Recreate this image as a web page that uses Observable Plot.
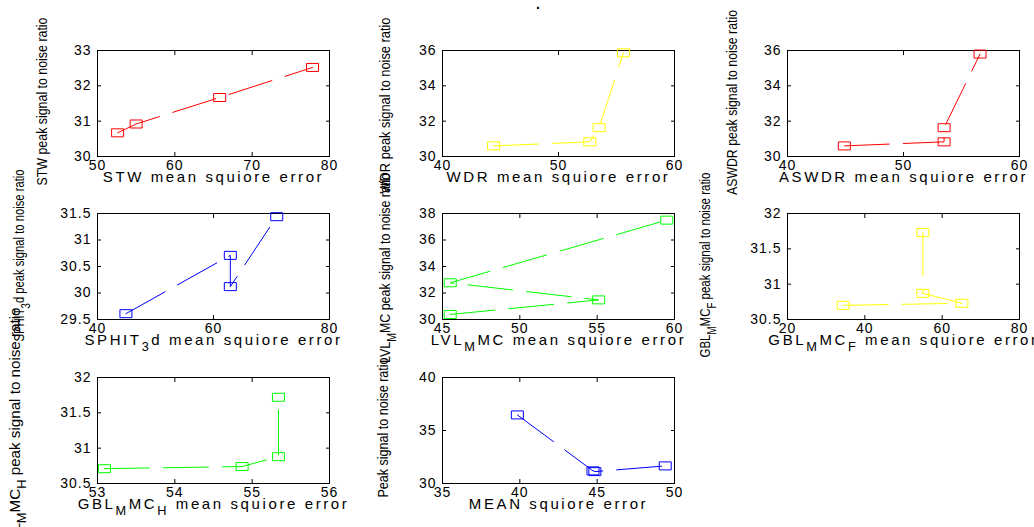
<!DOCTYPE html>
<html><head><meta charset="utf-8">
<script src="https://cdn.jsdelivr.net/npm/d3@7"></script>
<script src="https://cdn.jsdelivr.net/npm/@observablehq/plot@0.6"></script>
<style>
body{margin:0;background:#fff;}
#chart{position:relative;width:1034px;height:527px;overflow:hidden;background:#fff;font-family:"Liberation Sans",Arial,sans-serif;}
#chart svg{position:absolute;}
#title{position:absolute;left:536px;top:-4px;font:bold 14px "Liberation Sans",Arial,sans-serif;}
</style></head><body><div id="chart"><div id="title">.</div></div>
<script>
// ---- data ----
const stwX = [52.6, 55.0, 65.8, 77.8];
const stwY = [30.67, 30.92, 31.67, 32.52];
const wdrX = [44.4, 52.7, 53.5, 55.6];
const wdrY = [30.6, 30.83, 31.63, 35.87];
const aswdrX = [44.9, 53.5, 53.5, 56.6];
const aswdrY = [30.6, 30.83, 31.63, 35.8];
const sphitX = [44.9, 62.9, 62.9, 70.9];
const sphitY = [29.61, 30.71, 30.12, 31.44];
const lvlX = [45.5, 55.1, 45.5, 59.5];
const lvlY = [30.38, 31.48, 32.77, 37.5];
const gblFX = [34.4, 65.1, 55.0, 55.0];
const gblFY = [30.70, 30.73, 30.87, 31.73];
const gblHX = [53.09, 54.87, 55.34, 55.34];
const gblHY = [30.71, 30.74, 30.88, 31.72];
const meanX = [39.84, 44.73, 44.85, 49.4];
const meanY = [36.47, 31.19, 31.12, 31.66];

const stwXTicks = [50, 60, 70, 80], stwYTicks = [30, 31, 32, 33];
const wdrXTicks = [40, 50, 60], wdrYTicks = [30, 32, 34, 36];
const aswdrXTicks = [40, 50, 60], aswdrYTicks = [30, 32, 34, 36];
const sphitXTicks = [40, 60, 80], sphitYTicks = [29.5, 30, 30.5, 31, 31.5];
const lvlXTicks = [45, 50, 55, 60], lvlYTicks = [30, 32, 34, 36, 38];
const gblFXTicks = [20, 40, 60, 80], gblFYTicks = [30.5, 31, 31.5, 32];
const gblHXTicks = [53, 54, 55, 56], gblHYTicks = [30.5, 31, 31.5, 32];
const meanXTicks = [35, 40, 45, 50], meanYTicks = [30, 35, 40];

const xLabels = ["STW mean squiore error", "WDR mean squiore error", "ASWDR mean squiore error",
  "SPHIT_3d mean squiore error", "LVL_MMC mean squiore error", "GBL_MMC_F mean squiore error",
  "GBL_MMC_H mean squiore error", "MEAN squiore error"];
const yLabels = ["STW peak signal to noise ratio", "WDR peak signal to noise ratio", "ASWDR peak signal to noise ratio",
  "SPHIT_3d peak signal to noise ratio", "LVL_MMC peak signal to noise ratio", "GBL_MMC_F peak signal to noise ratio",
  "GBL_MMC_H peak signal to noise ratio", "Peak signal to noise ratio"];
const colors = ["#ff0000", "#ffff00", "#ff0000", "#0000ff", "#00ff00", "#ffff00", "#00ff00", "#0000ff"];

const series = [
  [stwX, stwY, stwXTicks, stwYTicks], [wdrX, wdrY, wdrXTicks, wdrYTicks], [aswdrX, aswdrY, aswdrXTicks, aswdrYTicks],
  [sphitX, sphitY, sphitXTicks, sphitYTicks], [lvlX, lvlY, lvlXTicks, lvlYTicks], [gblFX, gblFY, gblFXTicks, gblFYTicks],
  [gblHX, gblHY, gblHXTicks, gblHYTicks], [meanX, meanY, meanXTicks, meanYTicks]
];

// ---- layout ----
const colLeft = [97, 442, 787], rowTop = [50, 213, 377];
const W = 232, H = 106;
const ML = 95, MR = 20, MT = 45, MB = 45;
const yLabelLayout = [ // [dx from frame left, dy from frame middle, length]
  [-55, -2, 168], [-57, 2, 176], [-55, -1, 185],
  [-78, -11, 172], [-57, 1.5, 190], [-82, -1.5, 185],
  [-82, 0, 246], [-59, -3, 140]
];

const ns = "http://www.w3.org/2000/svg";
function setRich(el, s) {
  while (el.firstChild) el.removeChild(el.firstChild);
  let buf = "", shifted = false, i = 0;
  const add = (txt, sub) => {
    const t = document.createElementNS(ns, "tspan");
    t.textContent = txt;
    if (sub) { t.setAttribute("dy", shifted ? "0" : "6"); t.setAttribute("font-size", "0.85em"); shifted = true; }
    else if (shifted) { t.setAttribute("dy", "-6"); shifted = false; }
    el.appendChild(t);
  };
  while (i < s.length) {
    if (s[i] === "_" && i + 1 < s.length) { if (buf) { add(buf, false); buf = ""; } add(s[i + 1], true); i += 2; }
    else { buf += s[i]; i++; }
  }
  if (buf) add(buf, false);
}

const rectSymbol = { draw(ctx) { ctx.moveTo(-6, -4); ctx.lineTo(6, -4); ctx.lineTo(6, 4); ctx.lineTo(-6, 4); ctx.closePath(); } };
const fmt = d => String(d);
const chart = document.getElementById("chart");

series.forEach(([xs, ys, xt, yt], k) => {
  const col = k % 3, row = Math.floor(k / 3);
  const idx = d3.range(xs.length);
  const [ldx, ldy, llen] = yLabelLayout[k];
  const svg = Plot.plot({
    width: ML + W + MR, height: MT + H + MB,
    marginLeft: ML, marginRight: MR, marginTop: MT, marginBottom: MB,
    style: { background: "none", overflow: "visible", fontFamily: "'Liberation Sans', Arial, sans-serif", fontSize: "14px", color: "black", maxWidth: "none" },
    x: { domain: [xt[0], xt[xt.length - 1]], label: null },
    y: { domain: [yt[0], yt[yt.length - 1]], label: null },
    marks: [
      Plot.frame({ stroke: "black", strokeWidth: 1 }),
      Plot.axisX({ anchor: "bottom", ticks: xt, tickSize: -4, tickPadding: 8, tickFormat: fmt, fontSize: 14, label: null }),
      Plot.axisX({ anchor: "top", ticks: xt, tickSize: -4, tickFormat: () => "", label: null }),
      Plot.axisY({ anchor: "left", ticks: yt, tickSize: -4, tickPadding: 10, tickFormat: fmt, fontSize: 14, label: null }),
      Plot.axisY({ anchor: "right", ticks: yt, tickSize: -4, tickFormat: () => "", label: null }),
      Plot.line(idx, { x: i => xs[i], y: i => ys[i], stroke: colors[k], strokeWidth: 1, strokeDasharray: "45,14" }),
      Plot.dot(idx, { x: i => xs[i], y: i => ys[i], stroke: colors[k], fill: "none", strokeWidth: 1, symbol: rectSymbol }),
      Plot.text([xLabels[k]], { text: d => d, frameAnchor: "bottom", textAnchor: "middle", dy: 25, fontSize: 15, fill: "black" }),
      Plot.text([yLabels[k]], { text: d => d, frameAnchor: "left", textAnchor: "middle", dx: ldx, dy: ldy, rotate: -90, fontSize: 15.5, fill: "black" })
    ]
  });
  svg.style.left = (colLeft[col] - ML) + "px";
  svg.style.top = (rowTop[row] - MT) + "px";
  svg.querySelectorAll("text").forEach(t => {
    const c = t.textContent;
    if (c === xLabels[k]) {
      setRich(t, c);
      t.style.letterSpacing = "2.6px";
    } else if (c === yLabels[k]) {
      setRich(t, c);
      t.setAttribute("textLength", llen);
      t.setAttribute("lengthAdjust", "spacingAndGlyphs");
    } else if (/^[0-9.]+$/.test(c)) {
      t.style.letterSpacing = "1px";
    }
  });
  chart.appendChild(svg);
});
</script></body></html>
